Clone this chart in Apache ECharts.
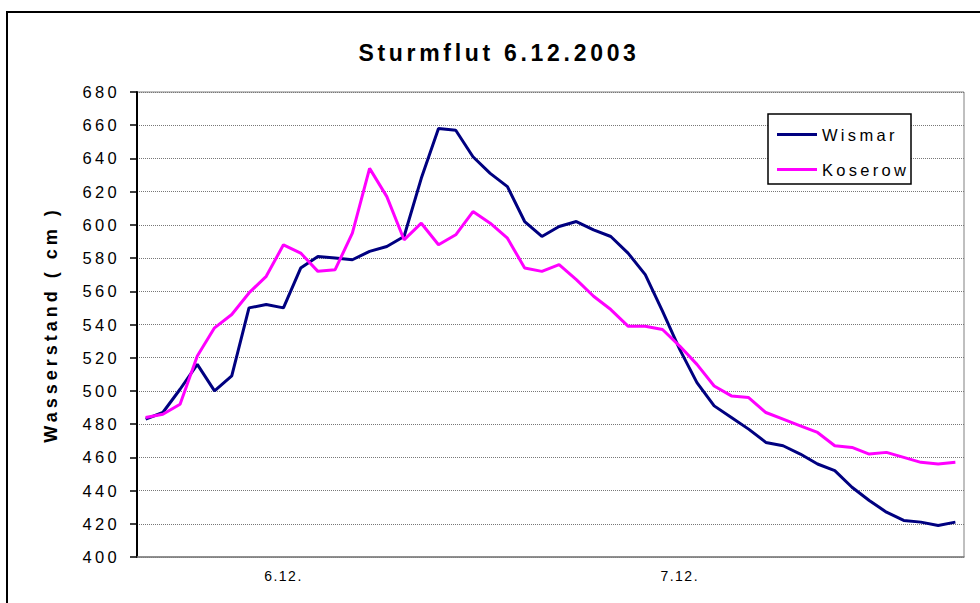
<!DOCTYPE html>
<html>
<head>
<meta charset="utf-8">
<script src="https://cdn.jsdelivr.net/npm/echarts@6/dist/echarts.min.js"></script>
<style>
  html, body { margin: 0; padding: 0; background: #fff; }
  #chart { width: 980px; height: 603px; }
</style>
</head>
<body>
<div id="chart"></div>
<script>
// ─── Data ────────────────────────────────────────
const titleText = 'Sturmflut 6.12.2003';
const yName = 'Wasserstand ( cm )';
const seriesNames = ['Wismar', 'Koserow'];

// one value per hour, 48 steps; only two day labels are shown
const dayLabels = { 8: '6.12.', 31: '7.12.' };

const wismar = [
  483, 487, 501, 516, 500, 509, 550, 552, 550, 574, 581, 580,
  579, 584, 587, 593, 628, 658, 657, 641, 631, 623, 602, 593,
  599, 602, 597, 593, 583, 570, 548, 525, 505, 491, 484, 477,
  469, 467, 462, 456, 452, 442, 434, 427, 422, 421, 419, 421
];

const koserow = [
  484, 486, 492, 521, 538, 546, 559, 569, 588, 583, 572, 573,
  595, 634, 617, 591, 601, 588, 594, 608, 601, 592, 574, 572,
  576, 567, 557, 549, 539, 539, 537, 527, 516, 503, 497, 496,
  487, 483, 479, 475, 467, 466, 462, 463, 460, 457, 456, 457
];

const categories = wismar.map((_, i) => dayLabels[i] || '');

const FONT = '"Liberation Sans", Arial, sans-serif';

// ─── Chart ───────────────────────────────────────
const el = document.getElementById('chart');
const chart = echarts.init(el, null, { renderer: 'svg' });

chart.setOption({
  animation: false,
  textStyle: { fontFamily: FONT, color: '#000' },
  graphic: [
    {
      type: 'rect',
      z: -1,
      shape: { x: 7, y: 12, width: 1000, height: 1000 },
      style: { fill: 'none', stroke: '#000', lineWidth: 2 }
    },
    {
      type: 'text',
      x: 499,
      y: 53,
      style: {
        text: titleText,
        font: 'bold 23px ' + FONT,
        fill: '#000',
        textAlign: 'center',
        textVerticalAlign: 'middle'
      }
    },
    {
      type: 'rect',
      z: 3,
      shape: { x: 768, y: 114, width: 143, height: 70 },
      style: { fill: '#fff', stroke: '#000', lineWidth: 1.5 }
    }
  ],
  legend: {
    data: seriesNames,
    orient: 'vertical',
    left: 777,
    top: 126,
    padding: 0,
    z: 5,
    icon: 'rect',
    itemWidth: 40,
    itemHeight: 3,
    itemGap: 18,
    textStyle: { fontSize: 16.5, fontFamily: FONT, color: '#000' }
  },
  grid: {
    left: 137, right: 16, top: 92, bottom: 46,
    show: true,
    borderColor: '#808080',
    borderWidth: 1
  },
  xAxis: {
    type: 'category',
    data: categories,
    boundaryGap: true,
    axisLine: { lineStyle: { color: '#808080', width: 1.5 } },
    axisTick: { show: false },
    axisLabel: { interval: 0, fontSize: 14, margin: 12, color: '#000' },
    splitLine: { show: false }
  },
  yAxis: {
    type: 'value',
    min: 400,
    max: 680,
    interval: 20,
    name: yName,
    nameLocation: 'middle',
    nameGap: 77,
    nameRotate: 90,
    nameTextStyle: { fontSize: 18, fontWeight: 'bold', color: '#000' },
    axisLine: { show: true, lineStyle: { color: '#000', width: 2 } },
    axisTick: { show: true, inside: false, length: 7, lineStyle: { color: '#000', width: 1.5 } },
    axisLabel: { fontSize: 16.5, margin: 17, color: '#000' },
    splitLine: { show: true, lineStyle: { color: '#777', type: [1, 1], width: 1 } }
  },
  series: [
    {
      name: 'Wismar',
      type: 'line',
      data: wismar,
      symbol: 'none',
      color: '#000080',
      lineStyle: { width: 3, color: '#000080' }
    },
    {
      name: 'Koserow',
      type: 'line',
      data: koserow,
      symbol: 'none',
      color: '#FF00FF',
      lineStyle: { width: 3, color: '#FF00FF' }
    }
  ]
});

// Excel spreads its letters out; mimic that on the svg text nodes
function applySpacing() {
  el.querySelectorAll('text').forEach(t => {
    const s = t.textContent;
    let ls = 3.3;
    if (s === titleText) ls = 3.7;
    else if (s === yName) ls = 4;
    else if (s === '6.12.' || s === '7.12.') ls = 1.5;
    t.style.letterSpacing = ls + 'px';
  });
}
applySpacing();
chart.on('finished', applySpacing);
</script>
</body>
</html>
